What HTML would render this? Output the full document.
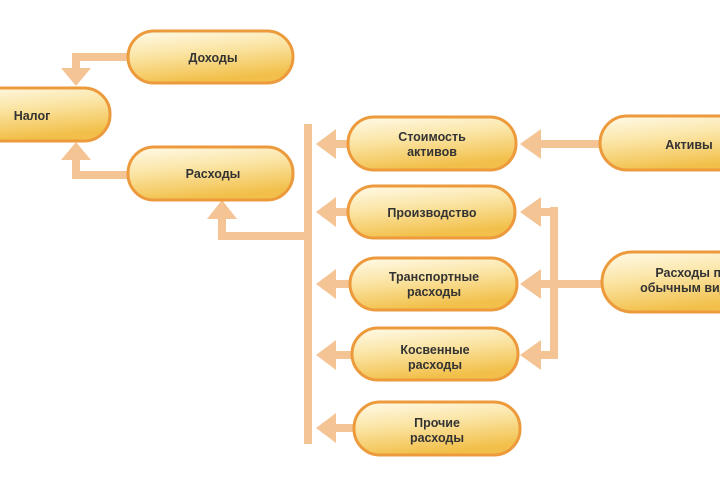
<!DOCTYPE html>
<html><head><meta charset="utf-8"><style>
html,body{margin:0;padding:0;background:#fff;width:720px;height:480px;overflow:hidden}
svg text{font-family:"Liberation Sans",sans-serif;font-weight:bold;font-size:12.5px;fill:#333;text-anchor:middle}
</style></head><body>
<svg width="720" height="480" viewBox="0 0 720 480">
<defs>
<linearGradient id="g" x1="0" y1="0" x2="0.3" y2="1">
<stop offset="0" stop-color="#fffbea"/><stop offset="0.45" stop-color="#fbe6a8"/><stop offset="1" stop-color="#f2c04a"/>
</linearGradient>
</defs>
<g fill="#f5c495">
<rect x="72" y="53" width="58" height="8"/><rect x="72" y="53" width="8" height="20"/>
<polygon points="61,68 91,68 76,86"/>
<rect x="72" y="171" width="58" height="8"/><rect x="72" y="155" width="8" height="24"/>
<polygon points="61,160 91,160 76,142"/>
<rect x="304" y="124" width="8" height="320"/>
<rect x="218" y="232" width="90" height="8"/><rect x="218" y="214" width="8" height="26"/>
<polygon points="207,219 237,219 222,200"/>
<g>
<rect x="330" y="140" width="20" height="8"/><polygon points="336,129 336,159 316,144"/>
<rect x="330" y="208" width="20" height="8"/><polygon points="336,197 336,227 316,212"/>
<rect x="330" y="280" width="22" height="8"/><polygon points="336,269 336,299 316,284"/>
<rect x="330" y="351" width="24" height="8"/><polygon points="336,340 336,370 316,355"/>
<rect x="330" y="424" width="26" height="8"/><polygon points="336,413 336,443 316,428"/>
</g>
<rect x="530" y="140" width="72" height="8"/><polygon points="541,129 541,159 520,144"/>
<rect x="550" y="207" width="8" height="152"/>
<rect x="530" y="208" width="28" height="8"/><polygon points="541,197 541,227 520,212"/>
<rect x="530" y="280" width="74" height="8"/><polygon points="541,269 541,299 520,284"/>
<rect x="530" y="351" width="28" height="8"/><polygon points="541,340 541,370 520,355"/>
</g>
<g fill="url(#g)" stroke="#ec9a3c" stroke-width="3">
<rect x="128" y="31" width="165" height="52" rx="26"/>
<rect x="-60" y="88" width="170" height="53" rx="26"/>
<rect x="128" y="147" width="165" height="53" rx="26"/>
<rect x="348" y="117" width="168" height="53" rx="26"/>
<rect x="348" y="186" width="167" height="52" rx="26"/>
<rect x="350" y="258" width="167" height="52" rx="26"/>
<rect x="352" y="328" width="166" height="52" rx="26"/>
<rect x="354" y="402" width="166" height="53" rx="26"/>
<rect x="600" y="116" width="170" height="54" rx="27"/>
<rect x="602" y="252" width="170" height="60" rx="30"/>
</g>
<text x="213" y="62">Доходы</text>
<text x="32" y="120">Налог</text>
<text x="213" y="178">Расходы</text>
<text x="432" y="141">Стоимость</text><text x="432" y="156">активов</text>
<text x="432" y="217">Производство</text>
<text x="434" y="281">Транспортные</text><text x="434" y="296">расходы</text>
<text x="435" y="354">Косвенные</text><text x="435" y="369">расходы</text>
<text x="437" y="427">Прочие</text><text x="437" y="442">расходы</text>
<text x="689" y="149">Активы</text>
<text x="692" y="277">Расходы по</text><text x="692" y="292">обычным видам</text>
</svg>
</body></html>
